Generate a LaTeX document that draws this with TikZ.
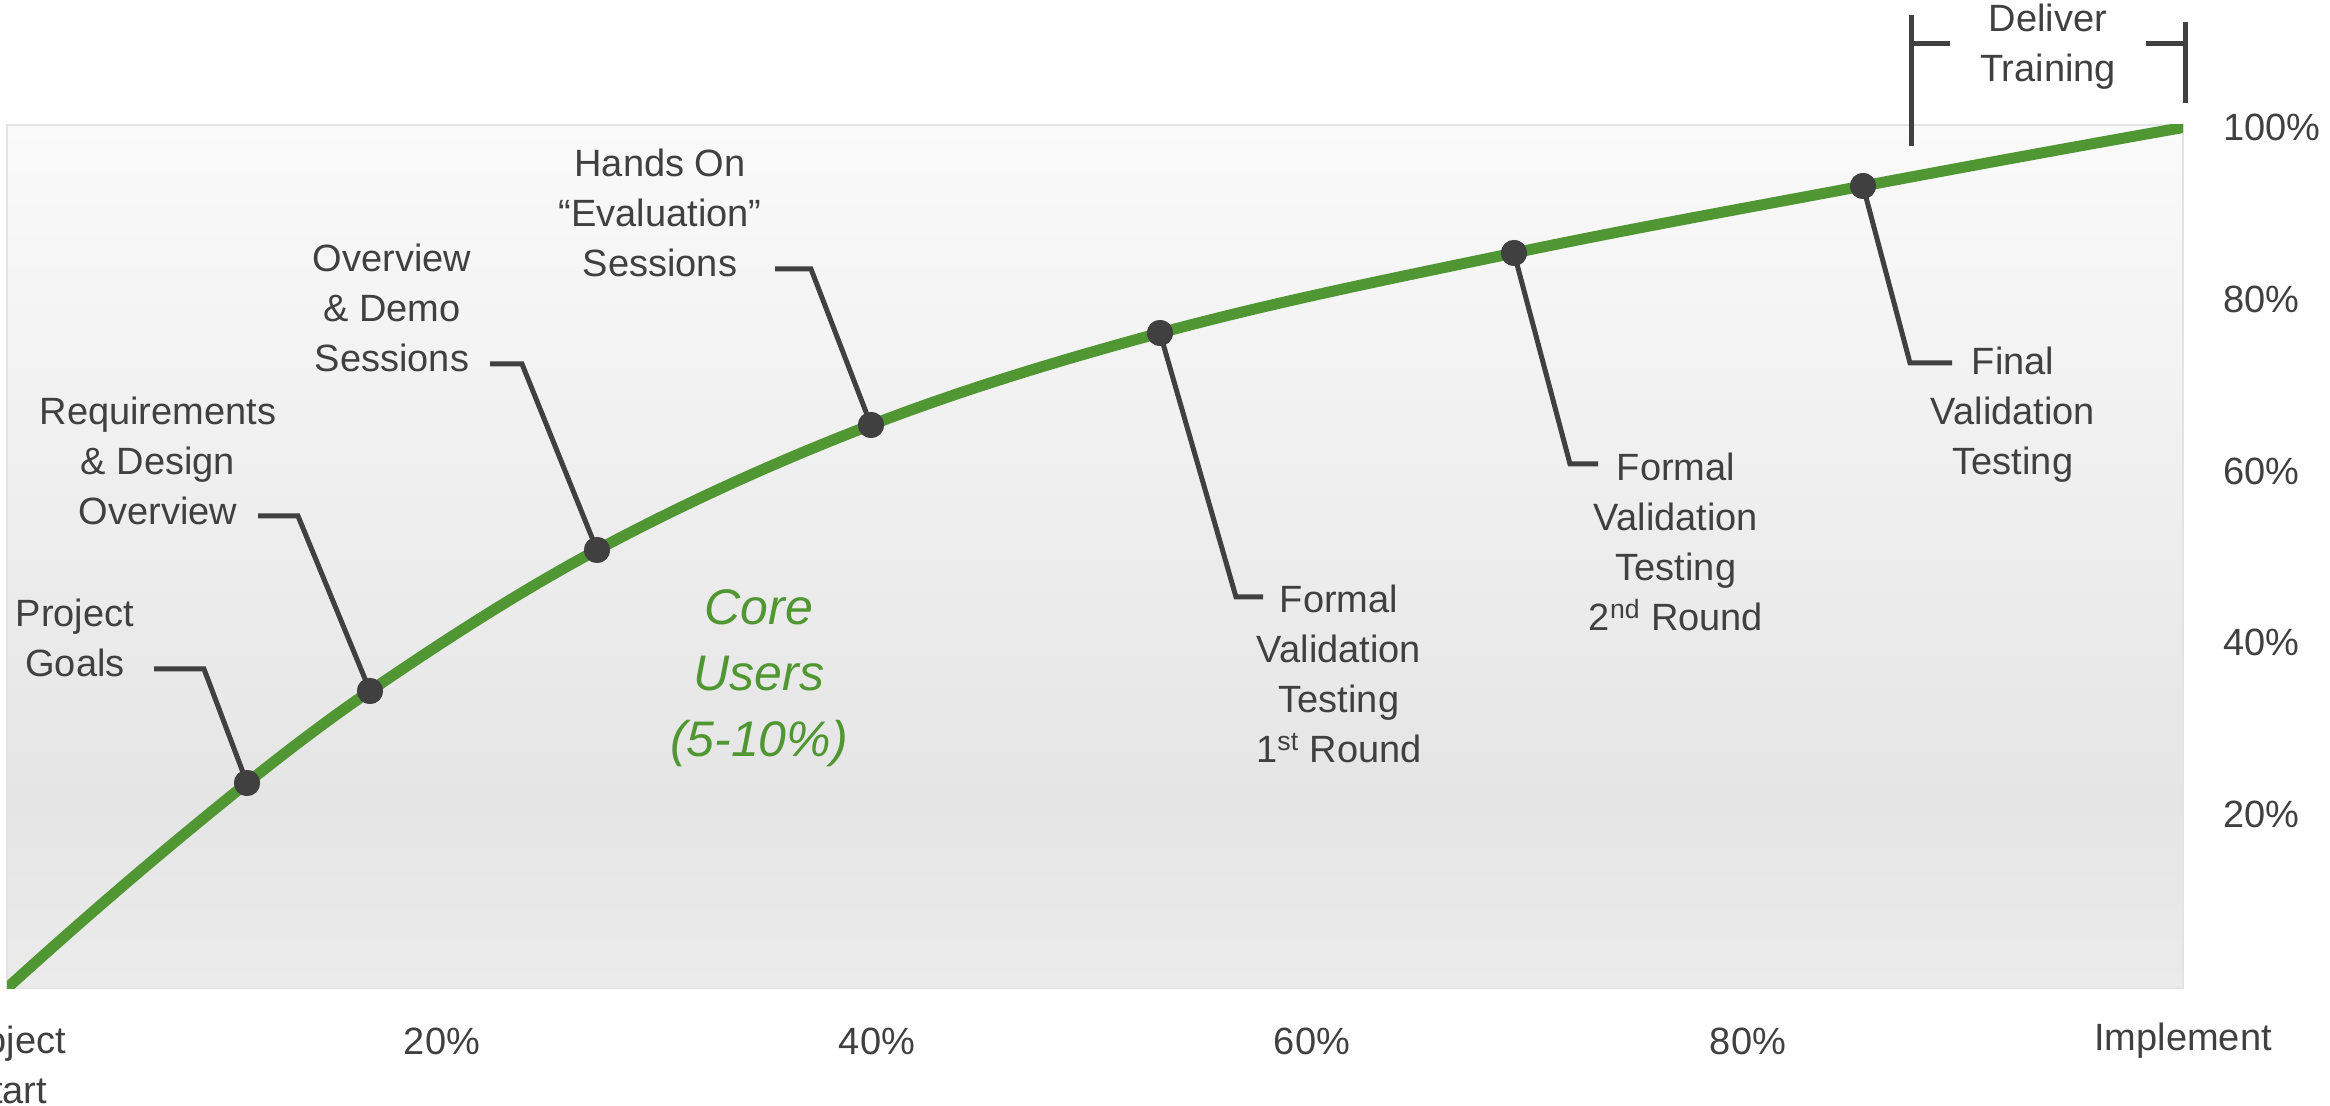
\documentclass[tikz,border=0pt]{standalone}
\usepackage{fontspec}
\setmainfont{Liberation Sans}
\definecolor{curvegreen}{RGB}{80,150,50}
\definecolor{ink}{RGB}{64,64,64}
\definecolor{bgtop}{RGB}{250,250,250}
\definecolor{bgmid}{RGB}{229,229,229}
\definecolor{bgbot}{RGB}{235,235,235}
\begin{document}
\begin{tikzpicture}[x=0.5pt,y=-0.5pt,
  lbl/.style={align=center,text=ink,font=\fontsize{19}{25}\selectfont,inner sep=0pt},
  axislbl/.style={align=center,text=ink,font=\fontsize{19}{25}\selectfont,inner sep=0pt},
  corelbl/.style={align=center,text=curvegreen,font=\fontsize{25}{33}\selectfont\itshape,inner sep=0pt},
  callout/.style={draw=ink,line width=2.5pt,line join=miter},
  dotmark/.style={circle,fill=ink,minimum size=13pt,inner sep=0pt},
  greencurve/.style={draw=curvegreen,line width=5.5pt}]
\useasboundingbox (0,0) rectangle (2330,1106);
% plot background
\fill[top color=bgtop,bottom color=bgmid] (7,125) rectangle (2183,800);
\fill[top color=bgmid,bottom color=bgbot] (7,799) rectangle (2183,988);
\draw[draw=black!11,line width=0.6pt] (7,125) rectangle (2183,988);
% curve points
\coordinate (p0) at (5,990);
\coordinate (p1) at (247,783);
\coordinate (p2) at (370,691);
\coordinate (p3) at (597,550);
\coordinate (p4) at (871,425);
\coordinate (p5) at (1160,333);
\coordinate (p6) at (1514,253);
\coordinate (p7) at (1863,186);
\coordinate (p8) at (2186,127);
\begin{scope}
\clip (7,125) rectangle (2183,988);
\draw[greencurve] (p0)
  .. controls (83.6,918.5) and (164.1,849.4) .. (p1)
  .. controls (287.0,751.0) and (327.7,719.9) .. (p2)
  .. controls (443.6,640.7) and (518.5,592.1) .. (p3)
  .. controls (685.5,502.6) and (777.3,461.1) .. (p4)
  .. controls (965.3,388.6) and (1062.4,359.5) .. (p5)
  .. controls (1276.8,301.3) and (1395.5,277.8) .. (p6)
  .. controls (1630.0,228.7) and (1746.5,207.9) .. (p7)
  .. controls (1970.5,165.8) and (2078.2,146.1) .. (p8);
\end{scope}
% labels
\node[lbl] (goals) at (75,638) {Project\\Goals};
\node[lbl] (req) at (158,461) {Requirements\\\& Design\\Overview};
\node[lbl] (demo) at (392,308) {Overview\\\& Demo\\Sessions};
\node[lbl] (hands) at (660,213) {Hands On\\“Evaluation”\\Sessions};
\node[lbl] (fv1) at (1339,674) {Formal\\Validation\\Testing\\1\textsuperscript{st} Round};
\node[lbl] (fv2) at (1676,542) {Formal\\Validation\\Testing\\2\textsuperscript{nd} Round};
\node[lbl] (final) at (2013,415) {Final\\Validation\\Testing};
\node[lbl] (deliver) at (2048,47) {Deliver\\Training};
\node[corelbl] (core) at (759,678) {Core\\Users\\(5-10\%)};
% axis labels
\node[axislbl] (xstart) at (7,1065) {Project\\Start};
\node[axislbl] (x20) at (442,1041) {20\%};
\node[axislbl] (x40) at (877,1041) {40\%};
\node[axislbl] (x60) at (1312,1041) {60\%};
\node[axislbl] (x80) at (1748,1041) {80\%};
\node[axislbl] (ximp) at (2183,1041) {Implement};
\node[axislbl,anchor=west] (y100) at (2223,127) {100\%};
\node[axislbl,anchor=west] (y80) at (2223,299) {80\%};
\node[axislbl,anchor=west] (y60) at (2223,471) {60\%};
\node[axislbl,anchor=west] (y40) at (2223,642) {40\%};
\node[axislbl,anchor=west] (y20) at (2223,814) {20\%};
% dots
\node[dotmark] (d1) at (p1) {};
\node[dotmark] (d2) at (p2) {};
\node[dotmark] (d3) at (p3) {};
\node[dotmark] (d4) at (p4) {};
\node[dotmark] (d5) at (p5) {};
\node[dotmark] (d6) at (p6) {};
\node[dotmark] (d7) at (p7) {};
% callout elbows
\coordinate (c1a) at (154,669); \coordinate (c1b) at (204,669);
\coordinate (c2a) at (258,516); \coordinate (c2b) at (298,516);
\coordinate (c3a) at (490,364); \coordinate (c3b) at (522,364);
\coordinate (c4a) at (775,269); \coordinate (c4b) at (811,269);
\coordinate (c5a) at (1263,597); \coordinate (c5b) at (1236,597);
\coordinate (c6a) at (1598,464); \coordinate (c6b) at (1570,464);
\coordinate (c7a) at (1952,363); \coordinate (c7b) at (1910,363);
\draw[callout] (c1a) -- (c1b) -- (d1.center);
\draw[callout] (c2a) -- (c2b) -- (d2.center);
\draw[callout] (c3a) -- (c3b) -- (d3.center);
\draw[callout] (c4a) -- (c4b) -- (d4.center);
\draw[callout] (c5a) -- (c5b) -- (d5.center);
\draw[callout] (c6a) -- (c6b) -- (d6.center);
\draw[callout] (c7a) -- (c7b) -- (d7.center);
% dots on top of callout ends
\foreach \d in {d1,d2,d3,d4,d5,d6,d7} {\fill[ink] (\d) circle (13);}
% deliver training bracket
\coordinate (bl1) at (1911,15); \coordinate (bl2) at (1911,146);
\coordinate (bl3) at (1911,44); \coordinate (bl4) at (1950,44);
\coordinate (br1) at (2185,22); \coordinate (br2) at (2185,103);
\coordinate (br3) at (2146,44); \coordinate (br4) at (2185,44);
\draw[callout] (bl1) -- (bl2);
\draw[callout] (bl3) -- (bl4);
\draw[callout] (br1) -- (br2);
\draw[callout] (br3) -- (br4);
\end{tikzpicture}
\end{document}
